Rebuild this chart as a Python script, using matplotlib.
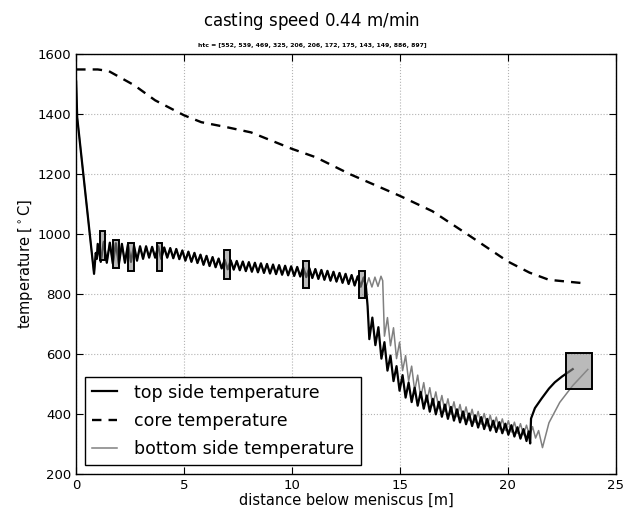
"""Casting simulation: surface and core temperature along the strand."""

import matplotlib

matplotlib.use("Agg")
import matplotlib.pyplot as plt
from matplotlib.patches import Rectangle

casting_speed = 0.44
htc = [552, 539, 469, 325, 206, 206, 172, 175, 143, 149, 886, 897]

# shared part of top/bottom surface temperature (they overlap up to ~13.3 m)
common_x = [0.0, 0.05, 0.83, 0.91, 0.96,
            1.00, 1.14, 1.28, 1.42, 1.56, 1.70, 1.84, 1.98, 2.12, 2.26,
            2.40, 2.54, 2.68, 2.82, 2.96, 3.10, 3.24, 3.38, 3.52, 3.66,
            3.80, 3.94, 4.08, 4.22, 4.36, 4.50, 4.64, 4.78, 4.92, 5.06,
            5.20, 5.34, 5.48, 5.62, 5.76, 5.90, 6.04, 6.18, 6.32, 6.46,
            6.60, 6.74, 6.88, 7.02, 7.16, 7.30, 7.44, 7.58, 7.72, 7.86,
            8.00, 8.14, 8.28, 8.42, 8.56, 8.70, 8.84, 8.98, 9.12, 9.26,
            9.40, 9.54, 9.68, 9.82, 9.96, 10.10, 10.24, 10.38, 10.52, 10.66,
            10.80, 10.94, 11.08, 11.22, 11.36, 11.50, 11.64, 11.78, 11.92, 12.06,
            12.20, 12.34, 12.48, 12.62, 12.76, 12.90, 13.04, 13.18, 13.32]
common_T = [1510, 1390, 868, 938, 918,
            968, 908, 975, 905, 972, 902, 970, 900, 968, 905,
            966, 908, 962, 912, 960, 918, 960, 922, 958, 922,
            960, 918, 956, 922, 954, 920, 951, 917, 946, 912,
            942, 908, 938, 904, 932, 898, 928, 894, 924, 890,
            919, 886, 915, 883, 913, 882, 911, 880, 909, 877,
            907, 875, 905, 873, 903, 871, 901, 869, 899, 867,
            897, 865, 895, 863, 893, 861, 891, 859, 889, 857,
            887, 854, 884, 851, 881, 848, 878, 845, 875, 842,
            871, 838, 868, 834, 864, 829, 860, 825, 856]

top_tail_x = [13.42, 13.50, 13.58, 13.72, 13.86, 14.00, 14.14, 14.28, 14.42, 14.56,
              14.70, 14.84, 14.98, 15.12, 15.26, 15.40, 15.54, 15.68, 15.82, 15.96,
              16.10, 16.24, 16.38, 16.52, 16.66, 16.80, 16.94, 17.08, 17.22, 17.36,
              17.50, 17.64, 17.78, 17.92, 18.06, 18.20, 18.34, 18.48, 18.62, 18.76,
              18.90, 19.04, 19.18, 19.32, 19.46, 19.60, 19.74, 19.88, 20.02, 20.16,
              20.30, 20.44, 20.58, 20.72, 20.86, 20.96, 21.03, 21.07, 21.25, 21.56,
              21.90, 22.17, 22.50, 22.80, 23.00]
top_tail_T = [828, 760, 650, 722, 630, 690, 585, 640, 545, 595,
              510, 560, 478, 530, 455, 505, 440, 488, 428, 474,
              418, 462, 408, 451, 399, 441, 391, 432, 384, 424,
              378, 416, 372, 409, 366, 402, 360, 396, 355, 390,
              350, 384, 345, 378, 340, 373, 336, 368, 331, 363,
              325, 356, 318, 350, 310, 342, 302, 385, 420, 452,
              485, 506, 525, 540, 550]

bot_tail_x = [13.42, 13.56, 13.70, 13.84, 13.98, 14.12, 14.20, 14.28, 14.42, 14.56,
              14.70, 14.84, 14.98, 15.12, 15.26, 15.40, 15.54, 15.68, 15.82, 15.96,
              16.10, 16.24, 16.38, 16.52, 16.66, 16.80, 16.94, 17.08, 17.22, 17.36,
              17.50, 17.64, 17.78, 17.92, 18.06, 18.20, 18.34, 18.48, 18.62, 18.76,
              18.90, 19.04, 19.18, 19.32, 19.46, 19.60, 19.74, 19.88, 20.02, 20.16,
              20.30, 20.44, 20.58, 20.72, 20.86, 21.00, 21.14, 21.28, 21.42, 21.60,
              21.90, 22.40, 23.00, 23.70]
bot_tail_T = [822, 855, 824, 857, 826, 860, 845, 660, 722, 628,
              688, 585, 640, 545, 595, 510, 560, 478, 530, 455,
              505, 440, 488, 428, 474, 418, 462, 408, 451, 399,
              441, 391, 432, 384, 424, 378, 416, 372, 409, 366,
              402, 360, 396, 355, 390, 350, 384, 345, 378, 340,
              373, 336, 368, 331, 363, 327, 358, 320, 345, 288,
              371, 439, 495, 549]

core_x = [0.0, 1.0, 1.5, 2.7, 3.66, 5.0, 5.8, 7.0, 8.1, 10.0,
          11.1, 12.7, 15.0, 16.5, 18.1, 20.0, 21.0, 21.9, 23.6]
core_T = [1550, 1550, 1545, 1497, 1447, 1397, 1374, 1357, 1340, 1285,
          1257, 1200, 1128, 1077, 1001, 909, 872, 848, 836]

# grey marker boxes (x range [m], temperature range [C])
box_x0 = [1.10, 1.72, 2.38, 3.74, 6.85, 10.52, 13.10, 22.67]
box_x1 = [1.36, 2.00, 2.69, 4.00, 7.13, 10.78, 13.40, 23.90]
box_T0 = [915, 889, 876, 879, 851, 822, 786, 483]
box_T1 = [1012, 982, 971, 971, 949, 912, 878, 604]


def main() -> None:
    top_x = common_x + top_tail_x
    top_T = common_T + top_tail_T
    bot_x = common_x + bot_tail_x
    bot_T = common_T + bot_tail_T

    fig = plt.figure(figsize=(6.24, 5.12), dpi=100)
    ax = fig.add_axes([0.122, 0.0742, 0.865, 0.8194])

    ax.plot(top_x, top_T, color="black", lw=1.6, label="top side temperature", zorder=3)
    ax.plot(core_x, core_T, color="black", lw=1.7, linestyle="--", dashes=(4, 3),
            label="core temperature", zorder=3)
    ax.plot(bot_x, bot_T, color="0.5", lw=1.1, label="bottom side temperature", zorder=2)

    for x0, x1, t0, t1 in zip(box_x0, box_x1, box_T0, box_T1):
        ax.add_patch(Rectangle((x0, t0), x1 - x0, t1 - t0, facecolor=(0.55, 0.55, 0.55, 0.6),
                               edgecolor="black", lw=1.4, zorder=4))

    ax.set_xlim(0, 25)
    ax.set_ylim(200, 1600)
    ax.set_xticks([0, 5, 10, 15, 20, 25])
    ax.set_yticks(range(200, 1601, 200))
    ax.tick_params(direction="in", top=True, right=True, length=5, labelsize=9.5)
    ax.grid(True, linestyle=":", color="0.7", lw=0.8)
    for s in ax.spines.values():
        s.set_linewidth(1.0)

    ax.set_xlabel("distance below meniscus [m]", fontsize=10.5, labelpad=1)
    ax.set_ylabel("temperature [$^\\circ$C]", fontsize=10.5, labelpad=2)

    fig.text(0.5, 1 - 21 / 512, "casting speed $%.2f$ m/min" % casting_speed,
             ha="center", va="center", fontsize=12)
    fig.text(0.5, 1 - 45.5 / 512, "htc = [%s]" % ", ".join(str(h) for h in htc),
             ha="center", va="center", fontsize=4.4, fontweight="bold")

    leg = ax.legend(loc="lower left", fontsize=12.5, fancybox=False, framealpha=1,
                    edgecolor="black", handlelength=1.45, handletextpad=1.0,
                    labelspacing=0.6, borderaxespad=0.5)
    leg.get_frame().set_linewidth(1.0)

    fig.savefig("out.png", dpi=100)
    plt.close(fig)


if __name__ == "__main__":
    main()
